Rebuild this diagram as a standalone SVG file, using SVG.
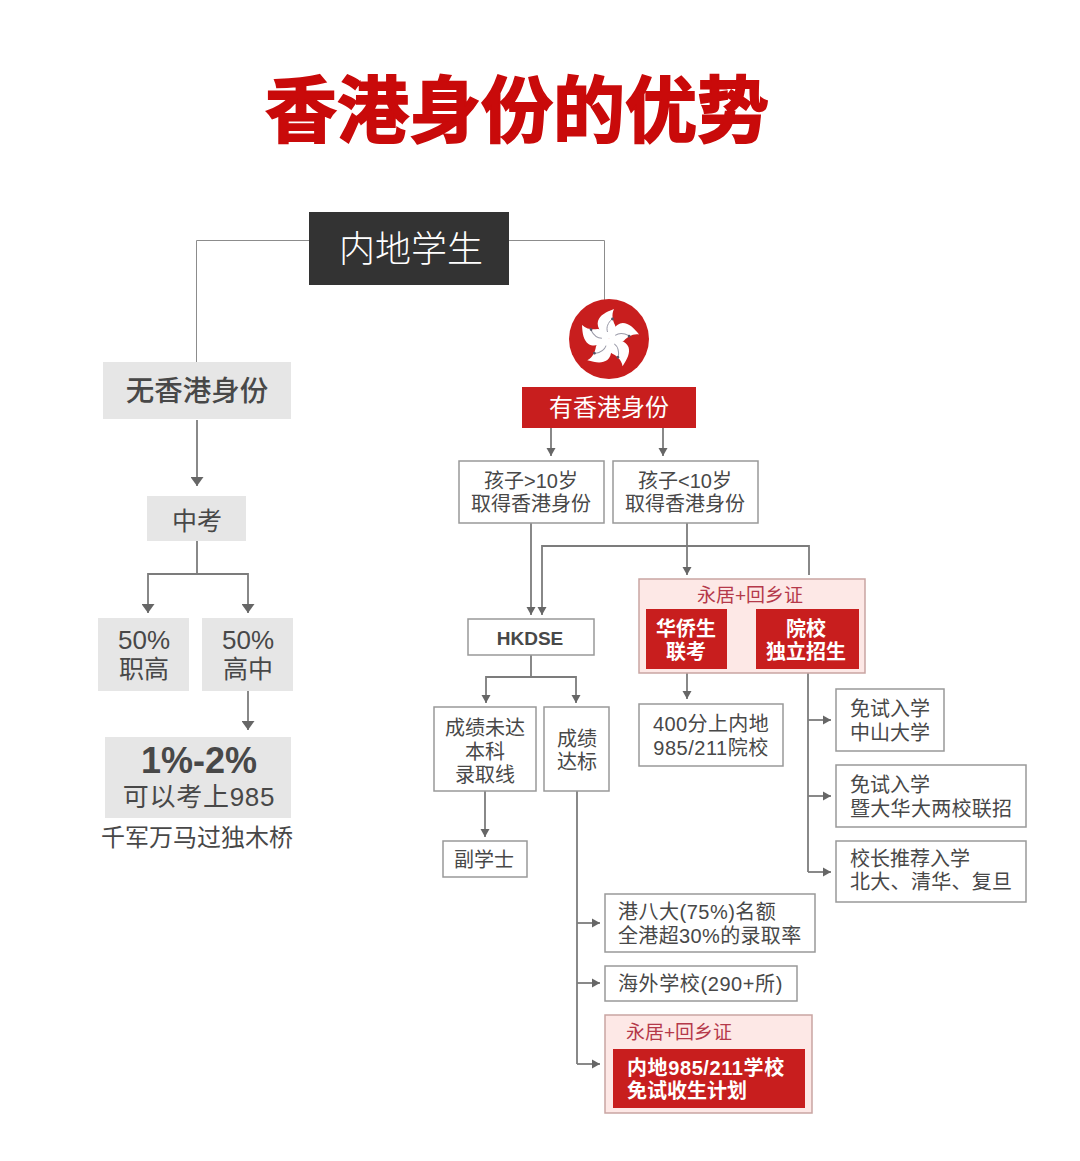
<svg xmlns="http://www.w3.org/2000/svg" width="1080" height="1161" viewBox="0 0 1080 1161">
<defs>
<marker id="a" markerUnits="userSpaceOnUse" markerWidth="9" markerHeight="10" refX="8" refY="5" orient="auto"><path d="M0 0.5L8 5L0 9.5Z" fill="#666"/></marker>
<marker id="b" markerUnits="userSpaceOnUse" markerWidth="10" markerHeight="13" refX="9" refY="6.5" orient="auto"><path d="M0 0L9 6.5L0 13Z" fill="#666"/></marker>
<g id="petal"><path d="M0 0C-6 -4 -13 -11 -11 -18C-9 -24 -3 -27 5 -30C2 -24 4 -18 6 -14C8 -8 5 -3 0 0Z" fill="#fff"/><path d="M-1.500 -7C-3 -12 -1 -16 3 -20" fill="none" stroke="#9a9aa8" stroke-width="1"/><circle cx="3.500" cy="-20" r="1.400" fill="#556"/></g>
</defs>
<style>
text{font-family:"Liberation Sans","Noto Sans CJK SC",sans-serif;text-anchor:middle;fill:#484848}
.l{text-anchor:start}
.b{font-weight:700}
.w{fill:#fff}
.g{fill:#e6e6e6}
.box{fill:#fff;stroke:#999;stroke-width:1.500}
.pink{fill:#fde8e6;stroke:#c9a5a2;stroke-width:1.500}
.red{fill:#c81e1e}
.c{fill:none;stroke:#7c7c7c;stroke-width:1.800}
.t{fill:none;stroke:#8c8c8c;stroke-width:1}
.m{font-size:20px}
.p{font-size:19px;fill:#b5394a}
</style>
<rect width="1080" height="1161" fill="#fff"/>
<text id="title" x="517" y="136" font-size="72" class="b" style="fill:#c90a0a;stroke:#c90a0a;stroke-width:1.800">香港身份的优势</text>
<g id="connectors">
<path class="t" d="M309 240.500H196.500V362M509 240.500H604.500V300"/>
<path class="c" marker-end="url(#b)" d="M197 420V486"/>
<path class="c" d="M197 541V574"/>
<path class="c" marker-end="url(#b)" d="M197 574H148V613"/>
<path class="c" marker-end="url(#b)" d="M197 574H248V613"/>
<path class="c" marker-end="url(#b)" d="M248 691V730"/>
<path class="c" marker-end="url(#a)" d="M551 428V456"/>
<path class="c" marker-end="url(#a)" d="M663 428V456"/>
<path class="c" marker-end="url(#a)" d="M531 523V615"/>
<path class="c" marker-end="url(#a)" d="M809 575V546H542V615"/>
<path class="c" marker-end="url(#a)" d="M687 523V575"/>
<path class="c" d="M531 655V677"/>
<path class="c" marker-end="url(#a)" d="M531 677H486V703"/>
<path class="c" marker-end="url(#a)" d="M531 677H576V703"/>
<path class="c" marker-end="url(#a)" d="M485 791V837"/>
<path class="c" marker-end="url(#a)" d="M687 673V699"/>
<path class="c" d="M808 673V872"/>
<path class="c" marker-end="url(#a)" d="M808 720H831"/>
<path class="c" marker-end="url(#a)" d="M808 796H831"/>
<path class="c" marker-end="url(#a)" d="M808 872H831"/>
<path class="c" d="M577 791V1064"/>
<path class="c" marker-end="url(#a)" d="M577 923H600"/>
<path class="c" marker-end="url(#a)" d="M577 983H600"/>
<path class="c" marker-end="url(#a)" d="M577 1064H600"/>
</g>
<g id="n-mainland"><rect x="309" y="212" width="200" height="73" fill="#333"/><text class="w" x="411" y="262" font-size="36" style="font-weight:300">内地学生</text></g>
<g id="n-none"><rect class="g" x="103" y="362" width="188" height="57"/><text x="197" y="401" font-size="28.500" style="font-weight:500">无香港身份</text></g>
<g id="n-zk"><rect class="g" x="147" y="496" width="99" height="45"/><text x="197" y="530" font-size="25">中考</text></g>
<g id="n-vocational"><rect class="g" x="98" y="618" width="91" height="73"/><text x="144" y="649" font-size="26">50%</text><text x="144" y="678" font-size="25">职高</text></g>
<g id="n-high"><rect class="g" x="202" y="618" width="91" height="73"/><text x="248" y="649" font-size="26">50%</text><text x="248" y="678" font-size="25">高中</text></g>
<g id="n-985"><rect class="g" x="105" y="737" width="186" height="81"/><text class="b" x="199" y="773" font-size="36">1%-2%</text><text x="199" y="806" font-size="26" style="letter-spacing:.7px">可以考上985</text></g>
<text id="caption" x="197" y="846" font-size="24">千军万马过独木桥</text>
<g id="n-flag"><circle cx="609" cy="339" r="40" fill="#c81e1e"/><g transform="translate(609 339)"><use href="#petal"/><use href="#petal" transform="rotate(72)"/><use href="#petal" transform="rotate(144)"/><use href="#petal" transform="rotate(216)"/><use href="#petal" transform="rotate(288)"/></g></g>
<g id="n-have"><rect class="red" x="522" y="387" width="174" height="41"/><text class="w" x="609" y="416" font-size="24">有香港身份</text></g>
<g id="n-gt10"><rect class="box" x="459" y="461" width="145" height="62"/><text class="m" x="531" y="488">孩子&gt;10岁</text><text class="m" x="531" y="511">取得香港身份</text></g>
<g id="n-lt10"><rect class="box" x="613" y="461" width="145" height="62"/><text class="m" x="685" y="488">孩子&lt;10岁</text><text class="m" x="685" y="511">取得香港身份</text></g>
<g id="n-hkdse"><rect class="box" x="468" y="619" width="126" height="36"/><text class="b" x="530" y="645" font-size="19">HKDSE</text></g>
<g id="n-fail"><rect class="box" x="434" y="707" width="102" height="84"/><text class="m" x="485" y="735">成绩未达</text><text class="m" x="485" y="759">本科</text><text class="m" x="485" y="782">录取线</text></g>
<g id="n-pass"><rect class="box" x="544" y="707" width="65" height="84"/><text class="m" x="577" y="746">成绩</text><text class="m" x="577" y="769">达标</text></g>
<g id="n-associate"><rect class="box" x="443" y="841" width="84" height="36"/><text class="m" x="484" y="867">副学士</text></g>
<g id="n-permit"><rect class="pink" x="639" y="579" width="226" height="94"/><text x="750" y="602" class="p">永居+回乡证</text><rect class="red" x="646" y="609" width="81" height="60"/><text class="w b" x="686" y="636" font-size="20">华侨生</text><text class="w b" x="686" y="659" font-size="20">联考</text><rect class="red" x="756" y="609" width="103" height="60"/><text class="w b" x="806" y="636" font-size="20">院校</text><text class="w b" x="806" y="659" font-size="20">独立招生</text></g>
<g id="n-400"><rect class="box" x="639" y="704" width="144" height="62"/><text class="m" x="711" y="731" style="letter-spacing:.4px">400分上内地</text><text class="m" x="711" y="755" style="letter-spacing:.5px">985/211院校</text></g>
<g id="n-zs"><rect class="box" x="836" y="689" width="108" height="62"/><text class="m l" x="850" y="716">免试入学</text><text class="m l" x="850" y="740">中山大学</text></g>
<g id="n-jd"><rect class="box" x="836" y="765" width="190" height="62"/><text class="m l" x="850" y="792">免试入学</text><text class="m l" x="850" y="816" style="letter-spacing:.3px">暨大华大两校联招</text></g>
<g id="n-principal"><rect class="box" x="836" y="841" width="190" height="61"/><text class="m l" x="850" y="866">校长推荐入学</text><text class="m l" x="850" y="889" style="letter-spacing:.3px">北大、清华、复旦</text></g>
<g id="n-hk8"><rect class="box" x="605" y="894" width="210" height="58"/><text class="m l" x="618" y="919" style="letter-spacing:.5px">港八大(75%)名额</text><text class="m l" x="618" y="943" style="letter-spacing:.35px">全港超30%的录取率</text></g>
<g id="n-overseas"><rect class="box" x="605" y="966" width="192" height="35"/><text class="m l" x="618" y="991" style="letter-spacing:.6px">海外学校(290+所)</text></g>
<g id="n-exempt"><rect class="pink" x="605" y="1015" width="207" height="98"/><text class="l p" x="626" y="1039">永居+回乡证</text><rect class="red" x="613" y="1049" width="192" height="59"/><text class="w b l" x="627" y="1075" font-size="20" style="letter-spacing:.6px">内地985/211学校</text><text class="w b l" x="627" y="1098" font-size="20">免试收生计划</text></g>
</svg>
